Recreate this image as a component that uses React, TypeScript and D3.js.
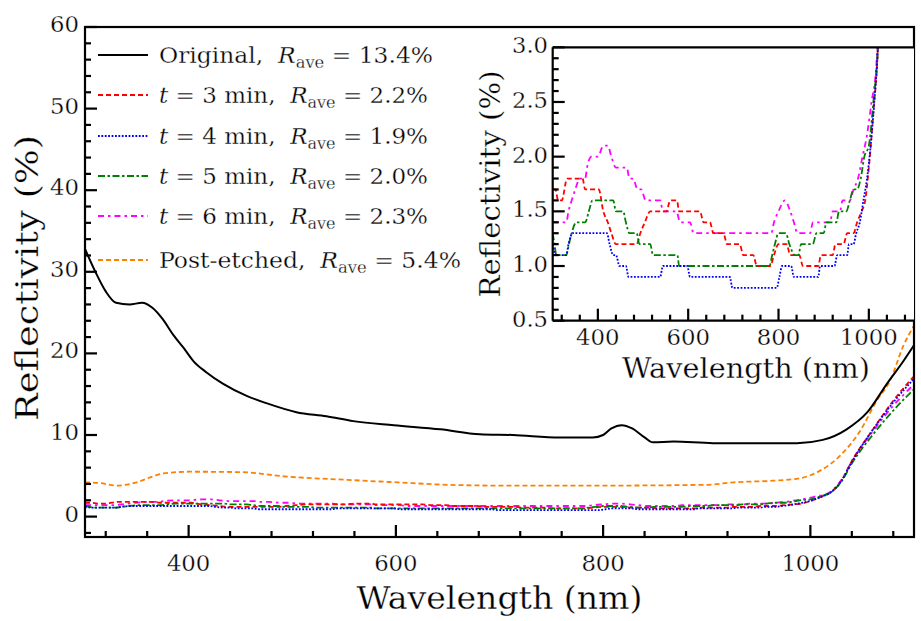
import React from "react";
import * as d3 from "d3";

// ---------- data ----------
const wlOriginal = [300, 310, 320, 330, 343, 355, 365, 375, 385, 395, 405, 417, 433, 456, 475, 504, 533, 559, 598, 643, 681, 713, 758, 790, 800, 808, 818, 828, 840, 848, 868, 906, 987, 1012, 1035, 1055, 1074, 1090, 1100];
const rOriginal = [32.8, 30.0, 27.6, 26.2, 26.0, 26.2, 25.6, 24.2, 22.3, 20.7, 19.0, 17.7, 16.3, 14.8, 13.9, 12.8, 12.3, 11.7, 11.2, 10.7, 10.1, 10.0, 9.7, 9.7, 10.0, 10.8, 11.2, 10.8, 9.7, 9.1, 9.2, 9.0, 9.0, 9.4, 10.7, 12.8, 16.3, 19.1, 21.0];

const wlPost = [300, 315, 330, 350, 365, 376, 401, 450, 495, 553, 601, 649, 700, 800, 900, 926, 964, 990, 1009, 1029, 1048, 1064, 1077, 1090, 1100];
const rPost = [4.2, 4.1, 3.8, 4.2, 4.9, 5.3, 5.5, 5.45, 4.9, 4.5, 4.2, 3.9, 3.8, 3.8, 3.9, 4.2, 4.4, 4.7, 5.6, 7.5, 10.5, 14.2, 16.7, 21.0, 23.4];

const wlT3 = [300, 306, 312, 320, 332, 366, 372, 402, 412, 422, 430, 440, 486, 494, 504, 516, 552, 560, 575, 580, 626, 634, 648, 656, 678, 686, 714, 722, 744, 752, 782, 790, 800, 818, 826, 846, 854, 888, 894, 920, 926, 944, 952, 966, 974, 984, 992, 1000, 1010, 1020, 1030, 1040, 1060, 1080, 1100];
const rT3 = [1.7, 1.7, 1.6, 1.6, 1.8, 1.8, 1.7, 1.7, 1.5, 1.4, 1.3, 1.2, 1.2, 1.3, 1.4, 1.5, 1.5, 1.6, 1.6, 1.5, 1.5, 1.4, 1.4, 1.3, 1.3, 1.2, 1.2, 1.1, 1.1, 1.0, 1.0, 1.1, 1.2, 1.2, 1.1, 1.1, 1.0, 1.0, 1.1, 1.1, 1.2, 1.2, 1.3, 1.3, 1.4, 1.5, 1.6, 1.9, 2.4, 3.0, 4.4, 6.8, 10.6, 14.2, 17.2];

const wlT4 = [300, 308, 330, 335, 344, 420, 426, 434, 440, 448, 462, 468, 538, 544, 598, 604, 692, 698, 796, 802, 808, 828, 834, 888, 892, 924, 930, 952, 956, 966, 972, 980, 988, 996, 1004, 1012, 1020, 1030, 1040, 1060, 1080, 1100];
const rT4 = [1.2, 1.1, 1.1, 1.2, 1.3, 1.3, 1.2, 1.1, 1.1, 1.0, 1.0, 0.9, 0.9, 1.0, 1.0, 0.9, 0.9, 0.8, 0.8, 0.9, 1.0, 1.0, 0.9, 0.9, 1.0, 1.0, 1.1, 1.1, 1.2, 1.2, 1.3, 1.4, 1.6, 1.8, 2.1, 2.5, 3.0, 4.4, 6.7, 10.6, 14.0, 16.9];

const wlT5 = [300, 304, 308, 330, 336, 342, 352, 372, 380, 388, 434, 440, 456, 462, 470, 486, 492, 516, 522, 576, 580, 780, 786, 792, 800, 816, 824, 836, 844, 850, 876, 884, 900, 906, 928, 934, 950, 958, 966, 974, 982, 990, 1000, 1010, 1020, 1030, 1040, 1060, 1080, 1100];
const rT5 = [1.3, 1.2, 1.1, 1.1, 1.2, 1.3, 1.4, 1.4, 1.5, 1.6, 1.6, 1.5, 1.5, 1.4, 1.3, 1.3, 1.2, 1.2, 1.1, 1.1, 1.0, 1.0, 1.1, 1.2, 1.3, 1.3, 1.2, 1.1, 1.1, 1.2, 1.2, 1.3, 1.3, 1.4, 1.4, 1.5, 1.5, 1.6, 1.7, 1.7, 1.8, 2.0, 2.1, 2.5, 3.0, 4.3, 6.5, 10.0, 13.0, 15.6];

const wlT6 = [300, 330, 335, 342, 350, 360, 372, 376, 386, 400, 412, 422, 430, 440, 464, 470, 478, 488, 496, 506, 538, 544, 574, 582, 604, 612, 784, 790, 800, 814, 826, 834, 842, 870, 876, 914, 920, 936, 942, 958, 966, 976, 986, 996, 1006, 1016, 1030, 1040, 1060, 1080, 1100];
const rT6 = [1.4, 1.4, 1.5, 1.6, 1.7, 1.8, 1.8, 1.9, 2.0, 2.0, 2.1, 2.1, 2.0, 1.9, 1.9, 1.8, 1.8, 1.7, 1.7, 1.6, 1.6, 1.5, 1.5, 1.4, 1.4, 1.3, 1.3, 1.4, 1.5, 1.6, 1.5, 1.4, 1.3, 1.3, 1.4, 1.4, 1.5, 1.5, 1.6, 1.6, 1.7, 1.8, 2.0, 2.2, 2.5, 2.8, 4.5, 6.8, 10.4, 13.6, 16.2];

const legendNames = ["Original", "t = 3 min", "t = 4 min", "t = 5 min", "t = 6 min", "Post-etched"];
const legendRave = ["13.4", "2.2", "1.9", "2.0", "2.3", "5.4"];

const mainXTicks = [400, 600, 800, 1000];
const mainYTicks = [0, 10, 20, 30, 40, 50, 60];
const insetXTicks = [400, 600, 800, 1000];
const insetYTicks = [0.5, 1.0, 1.5, 2.0, 2.5, 3.0];

// ---------- styles ----------
const FONT = "DejaVu Serif";
const TXT: React.CSSProperties = { fontFamily: FONT, stroke: "#fff", strokeWidth: 0.3 };

type Series = { wl: number[]; r: number[]; color: string; dash: string; width: number };
const series: Series[] = [
  { wl: wlOriginal, r: rOriginal, color: "#000000", dash: "none", width: 2 },
  { wl: wlT3, r: rT3, color: "#ff0000", dash: "5,3", width: 1.8 },
  { wl: wlT4, r: rT4, color: "#0000ff", dash: "1.8,1.6", width: 1.8 },
  { wl: wlT5, r: rT5, color: "#008000", dash: "7,2.5,2.5,2.5", width: 1.8 },
  { wl: wlT6, r: rT6, color: "#ff00ff", dash: "6,4,2.5,4", width: 1.8 },
  { wl: wlPost, r: rPost, color: "#ff8000", dash: "5,3", width: 1.8 },
];
const drawOrder = [5, 0, 4, 1, 3, 2];

const legendLineY = [55, 95, 136, 176, 216, 260];
const legendWidths = [274, 269, 269, 269, 269, 302];

function numW(s: string) {
  let w = 0;
  for (const c of s) w += c === "." ? 7 : 14.5;
  return w;
}

export default function App() {
  const x = d3.scaleLinear().domain([300, 1100]).range([85, 914]);
  const y = d3.scaleLinear().domain([-2.5, 60]).range([537, 27]);
  const xi = d3.scaleLinear().domain([300, 1100]).range([552.7, 914]);
  const yi = d3.scaleLinear().domain([0.5, 3.0]).range([320.7, 47.3]);

  const mainLine = (s: Series) =>
    d3.line<number>().x((_, i) => x(s.wl[i])).y((d) => y(d)).curve(d3.curveMonotoneX)(s.r) || "";
  const insetLine = (s: Series) =>
    d3.line<number>().x((_, i) => xi(s.wl[i])).y((d) => yi(d)).curve(d3.curveMonotoneX)(s.r) || "";

  const mainXMinor = d3.range(320, 1100, 40).filter((v) => !mainXTicks.includes(v));
  const mainYMinor = d3.range(-2, 60, 2).filter((v) => v % 10 !== 0);
  const insetXMinor = d3.range(320, 1100, 40).filter((v) => !insetXTicks.includes(v));
  const insetYMinor = d3.range(6, 30, 1).map((v) => v / 10).filter((v) => Math.round(v * 10) % 5 !== 0);

  const [x0, x1] = x.range();
  const [yb, yt] = y.range();
  const [ix0, ix1] = xi.range();
  const [iyb, iyt] = yi.range();

  return (
    <svg width={921} height={621} style={{ position: "absolute", left: 0, top: 0, background: "#fff" }}>
      <defs>
        <clipPath id="mainClip">
          <rect x={x0} y={yt} width={x1 - x0} height={yb - yt} />
        </clipPath>
        <clipPath id="insetClip">
          <rect x={ix0} y={iyt} width={ix1 - ix0} height={iyb - iyt} />
        </clipPath>
      </defs>
      <rect x={0} y={0} width={921} height={621} fill="#fff" />

      {/* main curves */}
      <g clipPath="url(#mainClip)" fill="none">
        {drawOrder.map((k) => (
          <path key={k} d={mainLine(series[k])} stroke={series[k].color} strokeWidth={series[k].width} strokeDasharray={series[k].dash} strokeLinejoin="round" />
        ))}
      </g>

      {/* main frame & ticks */}
      <g stroke="#000" strokeWidth={2.2}>
        <rect x={x0} y={yt} width={x1 - x0} height={yb - yt} fill="none" />
        {mainXTicks.map((v) => <line key={"mx" + v} x1={x(v)} x2={x(v)} y1={yb} y2={yb - 12} />)}
        {mainXMinor.map((v) => <line key={"mxm" + v} x1={x(v)} x2={x(v)} y1={yb} y2={yb - 6} />)}
        {mainYTicks.map((v) => <line key={"my" + v} x1={x0} x2={x0 + 12} y1={y(v)} y2={y(v)} />)}
        {mainYMinor.map((v) => <line key={"mym" + v} x1={x0} x2={x0 + 6} y1={y(v)} y2={y(v)} />)}
      </g>
      <g fontSize={22} fill="#000">
        {mainXTicks.map((v) => (
          <text key={"mxl" + v} style={TXT} x={x(v)} y={571} textAnchor="middle" textLength={numW(String(v))} lengthAdjust="spacingAndGlyphs">{v}</text>
        ))}
        {mainYTicks.map((v) => (
          <text key={"myl" + v} style={TXT} x={79} y={y(v) + 5} textAnchor="end" textLength={numW(String(v))} lengthAdjust="spacingAndGlyphs">{v}</text>
        ))}
      </g>
      <text style={TXT} x={(x0 + x1) / 2} y={609} fontSize={31} textAnchor="middle" textLength={286} lengthAdjust="spacingAndGlyphs">Wavelength (nm)</text>
      <text style={TXT} transform={`translate(38,${(yt + yb) / 2 - 4}) rotate(-90)`} fontSize={32} textAnchor="middle" textLength={286} lengthAdjust="spacingAndGlyphs">Reflectivity (%)</text>

      {/* legend */}
      {legendNames.map((name, i) => {
        const s = series[i];
        const ly = legendLineY[i];
        const isT = name.startsWith("t ");
        return (
          <g key={"lg" + i}>
            <line x1={98} x2={148} y1={ly} y2={ly} stroke={s.color} strokeWidth={s.width} strokeDasharray={s.dash} />
            <text x={159} y={ly + 8} fontSize={23} style={{ ...TXT, whiteSpace: "pre" }} textLength={legendWidths[i]} lengthAdjust="spacingAndGlyphs">
              {isT ? (
                <>
                  <tspan fontStyle="italic">t</tspan>
                  <tspan>{name.slice(1) + ",  "}</tspan>
                </>
              ) : (
                <tspan>{name + ",  "}</tspan>
              )}
              <tspan fontStyle="italic">R</tspan>
              <tspan fontSize={16} dy={5}>ave</tspan>
              <tspan dy={-5}>{" = " + legendRave[i] + "%"}</tspan>
            </text>
          </g>
        );
      })}

      {/* inset */}
      <rect x={ix0} y={iyt} width={ix1 - ix0} height={iyb - iyt} fill="#fff" />
      <g clipPath="url(#insetClip)" fill="none">
        {[5, 0, 4, 1, 3, 2].map((k) => (
          <path key={"i" + k} d={insetLine(series[k])} stroke={series[k].color} strokeWidth={series[k].width} strokeDasharray={series[k].dash} strokeLinejoin="round" />
        ))}
      </g>
      <g stroke="#000" strokeWidth={2.2}>
        <line x1={ix0} x2={ix1} y1={iyt} y2={iyt} />
        <line x1={ix0} x2={ix0} y1={iyt} y2={iyb} />
        <line x1={ix0} x2={ix1} y1={iyb} y2={iyb} />
        {insetXTicks.map((v) => <line key={"ix" + v} x1={xi(v)} x2={xi(v)} y1={iyb} y2={iyb - 12} />)}
        {insetXMinor.map((v) => <line key={"ixm" + v} x1={xi(v)} x2={xi(v)} y1={iyb} y2={iyb - 6} />)}
        {insetYTicks.map((v) => <line key={"iy" + v} x1={ix0} x2={ix0 + 12} y1={yi(v)} y2={yi(v)} />)}
        {insetYMinor.map((v) => <line key={"iym" + v} x1={ix0} x2={ix0 + 6} y1={yi(v)} y2={yi(v)} />)}
      </g>
      <g fontSize={22} fill="#000">
        {insetXTicks.map((v) => (
          <text key={"ixl" + v} style={TXT} x={xi(v)} y={345} textAnchor="middle" textLength={numW(String(v))} lengthAdjust="spacingAndGlyphs">{v}</text>
        ))}
        {insetYTicks.map((v) => (
          <text key={"iyl" + v} style={TXT} x={548} y={yi(v) + 6} textAnchor="end" textLength={numW(v.toFixed(1))} lengthAdjust="spacingAndGlyphs">{v.toFixed(1)}</text>
        ))}
      </g>
      <text style={TXT} x={746} y={378} fontSize={27} textAnchor="middle" textLength={248} lengthAdjust="spacingAndGlyphs">Wavelength (nm)</text>
      <text style={TXT} transform={`translate(500,${(iyt + iyb) / 2}) rotate(-90)`} fontSize={27} textAnchor="middle" textLength={227} lengthAdjust="spacingAndGlyphs">Reflectivity (%)</text>
    </svg>
  );
}
